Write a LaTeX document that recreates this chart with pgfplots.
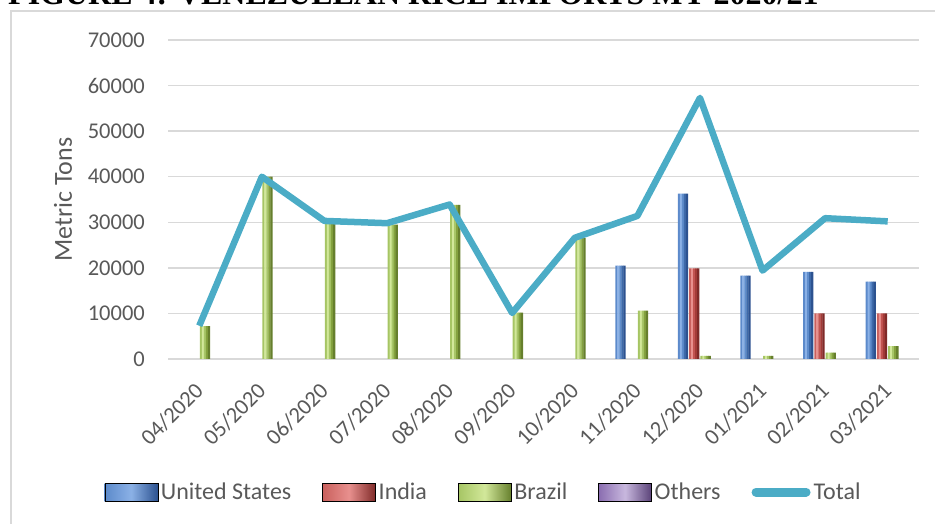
\documentclass[border=0pt]{standalone}
\usepackage{pgfplots}
\pgfplotsset{compat=1.18}
\usepackage{fontspec}
\setmainfont{Carlito}
\newfontfamily\titlefont{Liberation Serif}

\definecolor{txt}{HTML}{595959}
\definecolor{gridc}{HTML}{D9D9D9}
\definecolor{total}{HTML}{4BACC6}
% five vertical tones per series, left to right, for a rounded bar look
\definecolor{us1}{HTML}{5C8ACB}\definecolor{us2}{HTML}{8BB1E6}\definecolor{us3}{HTML}{5F8DCC}
\definecolor{us4}{HTML}{3E6AAA}\definecolor{us5}{HTML}{2C5290}
\definecolor{in1}{HTML}{C9605D}\definecolor{in2}{HTML}{E8908E}\definecolor{in3}{HTML}{C25451}
\definecolor{in4}{HTML}{A33B38}\definecolor{in5}{HTML}{7F2A28}
\definecolor{br1}{HTML}{A6C564}\definecolor{br2}{HTML}{D2E89A}\definecolor{br3}{HTML}{A8C668}
\definecolor{br4}{HTML}{84A23F}\definecolor{br5}{HTML}{667F2D}
\definecolor{ot1}{HTML}{8A6DB0}\definecolor{ot2}{HTML}{C8B8DE}\definecolor{ot5}{HTML}{5A4278}

% monthly imports by origin (metric tons); x = month index 0..11
\pgfplotstableread{
x  us
7  20500
8  36300
9  18300
10 19100
11 17000
}\usdata
\pgfplotstableread{
x  india
8  19900
10 10000
11 10000
}\indiadata
\pgfplotstableread{
x  brazil
0  7200
1  40000
2  29800
3  29500
4  33800
5  10200
6  26500
7  10600
8  700
9  700
10 1400
11 2800
}\brazildata
\pgfplotstableread{
x  total
0  7300
1  40000
2  30300
3  29800
4  33900
5  10100
6  26600
7  31400
8  57300
9  19400
10 30900
11 30200
}\totaldata

% one vertical strip of a bar series: table, column, shift (pt), colour
\newcommand\strip[4]{\addplot[ybar, bar width=2.3pt, bar shift=#3pt, draw=none, fill=#4, forget plot]
  table[x=x, y=#2] {#1};}
% five strips side by side form one bar of width 10pt
\newcommand\cylbars[4]{%
  \pgfmathsetmacro\sa{#3-4}\pgfmathsetmacro\sb{#3-2}\pgfmathsetmacro\sc{#3}%
  \pgfmathsetmacro\sd{#3+2}\pgfmathsetmacro\se{#3+4}%
  \edef\doit{\noexpand\strip{\noexpand#1}{#2}{\sa}{#41}%
    \noexpand\strip{\noexpand#1}{#2}{\sb}{#42}%
    \noexpand\strip{\noexpand#1}{#2}{\sc}{#43}%
    \noexpand\strip{\noexpand#1}{#2}{\sd}{#44}%
    \noexpand\strip{\noexpand#1}{#2}{\se}{#45}}%
  \doit}

\pgfplotsset{
  barlegend/.style n args={3}{legend image code/.code={%
      \path[left color=#1, right color=#3, middle color=#2] (0pt,-9pt) rectangle (53pt,9pt);}},
}

\begin{document}
\begin{tikzpicture}
\useasboundingbox (0,0) rectangle (935pt,524pt);
\clip (0,0) rectangle (935pt,524pt);
\node[anchor=base west, inner sep=0pt, font=\titlefont\bfseries\fontsize{32}{36}\selectfont] at (8pt,519pt)
  {FIGURE 4: VENEZUELAN RICE IMPORTS MY 2020/21};
\draw[gridc, line width=1.3pt] (11pt,-10pt) rectangle (950pt,513pt);
\begin{axis}[
  at={(168pt,165pt)}, anchor=south west,
  scale only axis, width=751pt, height=319pt,
  xmin=-0.5, xmax=11.5, ymin=0, ymax=70000,
  axis line style={draw=none},
  major tick length=0pt,
  ymajorgrids, grid style={gridc, line width=1.3pt},
  ytick={0,10000,...,70000},
  scaled y ticks=false,
  /pgf/number format/fixed,
  /pgf/number format/1000 sep={},
  /pgf/number format/assume math mode=true,
  yticklabel style={anchor=east, inner sep=0pt, xshift=-23pt},
  xtick={0,...,11},
  xticklabels={04/2020,05/2020,06/2020,07/2020,08/2020,09/2020,10/2020,11/2020,12/2020,01/2021,02/2021,03/2021},
  xticklabel style={xshift=-6pt, yshift=-22pt, rotate=45, anchor=north east, inner sep=0pt},
  tick label style={font=\fontsize{22.5}{27}\selectfont, text=txt},
  ylabel={Metric Tons},
  ylabel style={at={(axis description cs:-0.1398,0.5)}, anchor=center, font=\fontsize{26}{30}\selectfont, text=txt},
  legend columns=-1,
  legend style={at={(axis description cs:0.4208,-0.417)}, anchor=center, draw=none, fill=none,
    font=\fontsize{24}{28}\selectfont, text=txt,
    /tikz/every even column/.append style={column sep=28pt},
    nodes={inner xsep=3pt}},
]
\cylbars{\usdata}{us}{-16.95}{us}
\cylbars{\indiadata}{india}{-5.65}{in}
\cylbars{\brazildata}{brazil}{5.65}{br}

\addlegendimage{barlegend={us1}{us2}{us5}}
\addlegendentry{United States}
\addlegendimage{barlegend={in1}{in2}{in5}}
\addlegendentry{India}
\addlegendimage{barlegend={br1}{br2}{br5}}
\addlegendentry{Brazil}
\addlegendimage{barlegend={ot1}{ot2}{ot5}}
\addlegendentry{Others}

\addplot[sharp plot, no markers, total, line width=6.5pt, line join=round,
  legend image code/.code={\draw[total, line width=9pt, line cap=round] (4pt,0pt) -- (54pt,0pt);}]
  table[x=x, y=total] {\totaldata};
\addlegendentry{Total}
\end{axis}
\end{tikzpicture}
\end{document}
